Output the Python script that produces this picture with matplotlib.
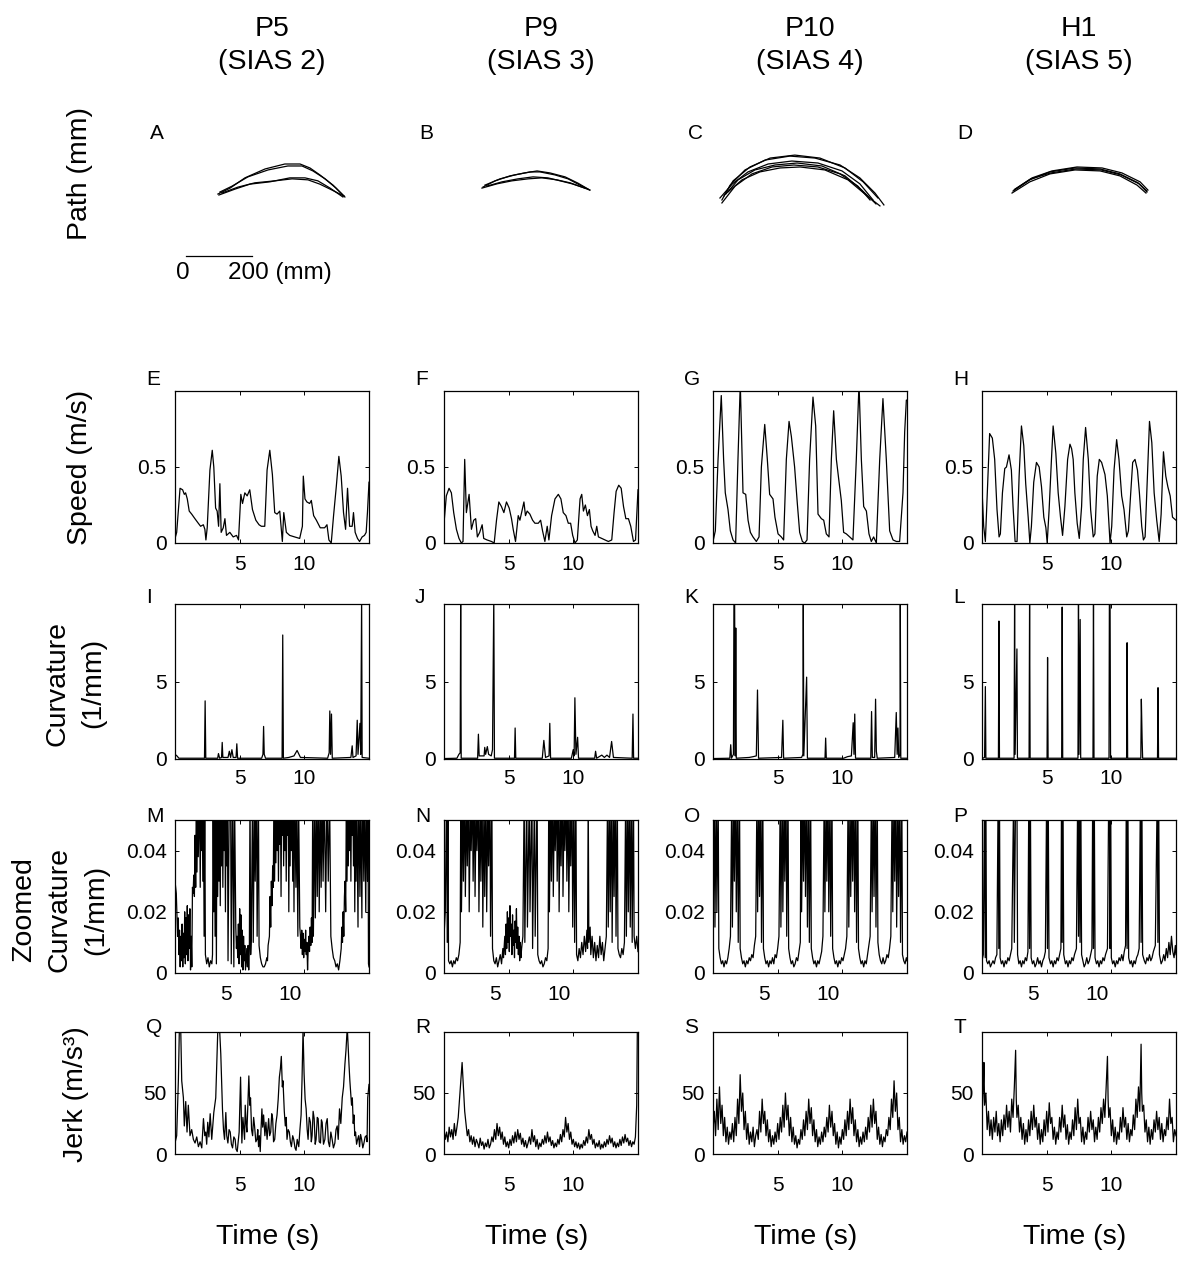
import matplotlib
matplotlib.use('Agg')
import matplotlib.pyplot as plt
import matplotlib.transforms as mtransforms

plt.rcParams['font.family'] = ['Liberation Sans', 'DejaVu Sans']

# ---------------- labels ----------------
participants = ['P5', 'P9', 'P10', 'H1']
sias = ['(SIAS 2)', '(SIAS 3)', '(SIAS 4)', '(SIAS 5)']
letters = [['A', 'B', 'C', 'D'], ['E', 'F', 'G', 'H'], ['I', 'J', 'K', 'L'],
           ['M', 'N', 'O', 'P'], ['Q', 'R', 'S', 'T']]
xticks = [5, 10]
speed_yticks = [0, 0.5]
curv_yticks = [0, 5]
zoom_yticks = [0, 0.02, 0.04]
jerk_yticks = [0, 50]
scale_bar_mm = [0, 200]

# ---------------- paths (mm) ----------------
path_P5 = [
    [(130, 321), (167, 339), (212, 370), (273, 397), (333, 412), (379, 412), (409, 400), (439, 379), (479, 348), (512, 315)],
    [(136, 327), (173, 345), (221, 373), (282, 394), (342, 406), (385, 406), (418, 391), (455, 367), (488, 339), (515, 312)],
    [(133, 318), (182, 336), (227, 351), (288, 358), (348, 370), (394, 370), (433, 361), (470, 339), (509, 312)],
    [(142, 324), (191, 342), (242, 355), (303, 361), (355, 367), (403, 364), (439, 351), (476, 333), (512, 315)],
]
path_P9 = [
    [(118, 342), (155, 361), (200, 376), (245, 385), (282, 391), (321, 385), (367, 373), (406, 354), (442, 333)],
    [(124, 348), (170, 367), (215, 379), (261, 388), (291, 388), (336, 379), (376, 367), (412, 348), (436, 336)],
    [(115, 339), (161, 352), (206, 361), (255, 367), (297, 370), (342, 364), (382, 355), (418, 342), (442, 333)],
    [(130, 345), (176, 358), (224, 367), (270, 373), (315, 370), (352, 361), (388, 352), (427, 339)],
]
path_P10 = [
    [(27, 303), (52, 348), (97, 394), (158, 424), (233, 436), (309, 430), (385, 409), (445, 370), (491, 324), (518, 288)],
    [(33, 315), (61, 361), (112, 403), (173, 430), (248, 439), (324, 430), (400, 400), (455, 358), (500, 309)],
    [(21, 309), (58, 351), (106, 388), (167, 412), (239, 421), (318, 415), (391, 391), (445, 352), (485, 303)],
    [(39, 321), (76, 364), (127, 394), (188, 409), (255, 415), (330, 406), (400, 376), (451, 333), (494, 291)],
    [(45, 327), (88, 364), (142, 388), (203, 400), (264, 403), (339, 394), (409, 364), (464, 318), (506, 285)],
    [(27, 294), (67, 345), (118, 382), (179, 403), (245, 409), (318, 403), (385, 382), (439, 345), (476, 303)],
]
path_H1 = [
    [(94, 330), (145, 364), (206, 388), (282, 400), (358, 397), (418, 382), (473, 355), (500, 330)],
    [(100, 336), (152, 370), (212, 391), (288, 403), (364, 400), (424, 385), (479, 358), (503, 333)],
    [(91, 324), (145, 358), (206, 382), (282, 394), (358, 391), (418, 376), (470, 348), (497, 324)],
    [(97, 333), (148, 367), (209, 385), (285, 397), (361, 394), (421, 379), (476, 352), (500, 327)],
]

# ---------------- speed (m/s) ----------------
speed_P5 = [(0, .03), (.13, .07), (.39, .36), (.59, .35), (.72, .32), (.82, .33), (.95, .29), (1.1, .21), (1.29, .19),
            (1.54, .16), (1.8, .13), (1.98, .11), (2.19, .12), (2.31, .09), (2.39, .02), (2.49, .10), (2.7, .48),
            (2.88, .61), (3.0, .5), (3.14, .23), (3.26, .21), (3.37, .11), (3.47, .39), (3.57, .07), (3.73, .10),
            (3.86, .16), (3.98, .05), (4.24, .07), (4.5, .04), (4.76, .05), (4.91, .02), (5.09, .32), (5.22, .26),
            (5.4, .33), (5.58, .31), (5.78, .35), (5.99, .22), (6.25, .15), (6.5, .12), (6.68, .11), (6.94, .11),
            (7.12, .48), (7.33, .61), (7.53, .45), (7.71, .2), (7.89, .19), (8.1, .21), (8.3, .01), (8.41, .20),
            (8.61, .07), (8.87, .05), (9.25, .04), (9.64, .03), (9.85, .11), (9.92, .44), (10.05, .29), (10.2, .27),
            (10.41, .26), (10.54, .28), (10.72, .18), (10.93, .15), (11.05, .13), (11.23, .10), (11.57, .10),
            (11.75, .12), (11.9, .02), (12.08, .0), (12.26, .18), (12.47, .37), (12.67, .57), (12.85, .44),
            (13.03, .2), (13.19, .09), (13.34, .36), (13.5, .11), (13.7, .11), (13.8, .2), (13.93, .07),
            (14.11, .03), (14.27, .01), (14.47, .04), (14.65, .05), (14.78, .07), (14.88, .2), (15.0, .4)]
speed_P9 = [(0, .13), (.18, .31), (.39, .36), (.57, .33), (.75, .2), (.96, .09), (1.16, .03), (1.34, 0), (1.47, .01),
            (1.6, .55), (1.73, .2), (1.94, .32), (2.12, .09), (2.3, .15), (2.45, .16), (2.58, .04), (2.76, .07),
            (2.95, .12), (3.07, .03), (3.33, .02), (3.67, .01), (3.88, 0), (4.06, .15), (4.24, .27), (4.44, .24),
            (4.63, .2), (4.83, .27), (5.04, .23), (5.22, .16), (5.35, .09), (5.53, .01), (5.74, .18), (5.87, .15),
            (6.0, .2), (6.18, .27), (6.3, .18), (6.43, .21), (6.64, .19), (6.85, .15), (7.03, .13), (7.29, .13),
            (7.47, .15), (7.62, .08), (7.8, .01), (7.98, .11), (8.11, .02), (8.32, .18), (8.58, .29), (8.84, .32),
            (9.04, .29), (9.22, .2), (9.43, .18), (9.61, .13), (9.79, .13), (9.95, .05), (10.13, 0), (10.31, .02),
            (10.52, .29), (10.65, .32), (10.78, .21), (10.93, .25), (11.09, .18), (11.24, .22), (11.37, .11),
            (11.5, .08), (11.68, .05), (11.81, .11), (11.94, .04), (12.2, .03), (12.45, .02), (12.71, .01),
            (12.97, .02), (13.15, .2), (13.31, .34), (13.51, .38), (13.7, .36), (13.88, .24), (14.06, .16),
            (14.26, .16), (14.44, .11), (14.65, .01), (14.81, .02), (15.0, .35)]
speed_P10 = [(0, .01), (.18, .08), (.39, .55), (.64, .97), (.82, .55), (.95, .33), (1.16, .22), (1.34, .08), (1.55, .02),
             (1.75, 0), (1.93, .55), (2.11, 1.05), (2.32, .33), (2.53, .32), (2.71, .15), (2.89, .07), (3.09, .04),
             (3.35, .01), (3.56, .04), (3.74, .5), (4.0, .78), (4.2, .55), (4.38, .32), (4.64, .29), (4.79, .17),
             (5.03, .06), (5.28, .04), (5.46, .02), (5.67, .55), (5.88, .8), (6.06, .7), (6.31, .5), (6.52, .26),
             (6.7, .07), (6.91, .01), (7.09, 0), (7.27, .02), (7.47, .55), (7.73, .96), (7.94, .77), (8.12, .19),
             (8.38, .16), (8.56, .15), (8.76, .06), (8.97, .04), (9.15, .55), (9.33, .87), (9.54, .55), (9.72, .42),
             (9.92, .28), (10.1, .07), (10.31, .06), (10.57, .04), (10.82, .02), (11.08, .55), (11.29, 1.05),
             (11.47, .55), (11.65, .24), (11.86, .21), (12.06, .06), (12.24, .01), (12.42, .04), (12.63, 0),
             (12.89, .55), (13.14, .95), (13.4, .55), (13.66, .08), (13.92, .02), (14.18, .01), (14.43, .01),
             (14.69, .33), (14.82, .73), (14.95, .94), (15.0, .94)]
speed_H1 = [(0, .35), (.13, .11), (.26, .01), (.41, .33), (.59, .72), (.8, .69), (.98, .55), (1.16, .22), (1.32, .04),
            (1.42, .06), (1.58, .33), (1.76, .49), (1.89, .5), (2.09, .58), (2.27, .48), (2.4, .24), (2.56, .01),
            (2.71, .01), (2.87, .44), (3.05, .77), (3.23, .64), (3.38, .39), (3.57, .17), (3.7, 0), (3.82, .11),
            (4.0, .4), (4.21, .53), (4.42, .5), (4.6, .37), (4.78, .17), (4.94, .1), (5.04, 0), (5.19, .22),
            (5.37, .55), (5.5, .77), (5.71, .59), (5.89, .33), (6.07, .17), (6.23, .05), (6.41, .24), (6.62, .55),
            (6.8, .65), (6.93, .62), (7.05, .55), (7.18, .33), (7.36, .13), (7.52, .03), (7.7, .24), (7.83, .55),
            (8.01, .76), (8.22, .55), (8.4, .22), (8.6, .04), (8.73, .06), (8.91, .44), (9.07, .55), (9.25, .53),
            (9.51, .45), (9.69, .31), (9.9, 0), (10.03, .11), (10.21, .48), (10.41, .68), (10.59, .55), (10.8, .31),
            (10.98, .22), (11.19, .04), (11.32, .08), (11.5, .33), (11.65, .53), (11.83, .55), (12.02, .48),
            (12.17, .33), (12.35, .11), (12.48, .02), (12.61, .04), (12.79, .44), (12.95, .8), (13.13, .66),
            (13.31, .33), (13.51, .15), (13.7, .01), (13.85, .19), (14.03, .6), (14.21, .44), (14.37, .37),
            (14.55, .31), (14.73, .17), (14.86, .16), (15.0, .15)]

# ---------------- curvature (1/mm) ----------------
curv_P5 = [(0, .3), (.15, .2), (.3, .05), (2.28, .05), (2.33, 3.75), (2.38, .05), (3.3, .05), (3.36, .35), (3.45, .05),
           (3.6, .1), (3.65, 1.07), (3.7, .1), (4.1, .1), (4.2, .5), (4.3, .1), (4.4, .6), (4.5, .1), (4.72, .1),
           (4.78, .98), (4.84, .05), (6.7, .05), (6.8, .3), (6.85, 2.1), (6.9, .3), (7.0, .05), (8.28, .05),
           (8.33, 8.0), (8.38, .05), (8.8, .1), (9.2, .2), (9.44, .55), (9.7, .1), (11.8, .05), (11.92, .4),
           (11.97, 3.1), (12.03, .3), (12.1, 2.9), (12.16, .05), (13.6, .1), (13.7, .85), (13.76, .1), (14.0, .2),
           (14.09, 2.5), (14.15, .3), (14.3, 2.3), (14.36, .3), (14.43, 10.5), (14.47, .1), (15.0, .05)]
curv_P9 = [(0, .03), (1.0, .05), (1.15, .3), (1.25, .4), (1.29, 10.5), (1.33, .05), (2.6, .05), (2.66, 1.6), (2.72, .2),
           (3.1, .2), (3.15, .75), (3.22, .3), (3.35, .8), (3.45, .3), (3.65, .2), (3.75, .6), (3.85, 10.5),
           (3.9, .05), (5.45, .05), (5.5, 2.0), (5.55, .05), (7.6, .05), (7.72, 1.2), (7.85, .1), (8.12, .2),
           (8.18, 2.3), (8.24, .05), (9.85, .05), (9.99, .6), (10.06, .2), (10.12, 3.95), (10.2, .3), (10.33, 1.4),
           (10.4, .05), (11.65, .05), (11.72, .5), (11.8, .05), (12.2, .25), (12.4, .1), (12.6, .25), (12.8, .1),
           (12.96, 1.13), (13.1, .1), (14.55, .05), (14.61, 2.9), (14.66, .05), (15.0, .05)]
curv_P10 = [(0, .03), (1.3, .05), (1.37, .92), (1.43, .05), (1.58, .3), (1.62, 10.5), (1.67, 10.5), (1.72, .2),
            (1.76, 8.45), (1.8, .05), (2.8, .1), (3.1, .15), (3.35, .2), (3.44, 4.45), (3.52, .05), (5.3, .1),
            (5.4, 2.5), (5.46, .05), (6.85, .1), (6.95, .3), (6.98, 10.5), (7.02, .2), (7.24, 5.28), (7.3, .05),
            (8.66, .05), (8.71, 1.35), (8.76, .05), (10.1, .05), (10.4, .15), (10.7, .2), (10.84, 2.34), (10.9, .3),
            (10.96, 2.9), (11.02, .05), (12.2, .05), (12.26, 3.06), (12.32, .1), (12.5, .1), (12.57, 3.86),
            (12.63, .5), (12.7, .05), (14.05, .1), (14.17, 3.0), (14.24, .3), (14.3, 2.0), (14.36, .1), (14.46, .3),
            (14.48, 10.5), (14.52, .05), (15.0, .05)]
curv_H1 = [(0, .03), (.2, .1), (.26, 4.67), (.3, .05), (1.27, .05), (1.31, 8.9), (1.35, .05), (2.48, .05),
           (2.52, 10.5), (2.56, .3), (2.7, 7.1), (2.74, .05), (3.64, .05), (3.68, 10.5), (3.72, .05), (5.03, .05),
           (5.07, 6.55), (5.11, .05), (6.16, .05), (6.2, 9.8), (6.24, .05), (7.42, .05), (7.46, 10.5), (7.5, .3),
           (7.59, 9.0), (7.63, .05), (8.58, .05), (8.62, 10.5), (8.66, .05), (9.82, .05), (9.85, 10.5), (9.9, 10.5),
           (9.94, .05), (11.18, .05), (11.22, 7.5), (11.26, .05), (12.28, .05), (12.32, 3.86), (12.38, 1.3),
           (12.42, .05), (13.57, .05), (13.61, 4.6), (13.65, .05), (15.0, .05)]

# ---------------- zoomed curvature (1/mm) ----------------
zoom_P5 = [(0.0, .030), (.1, .026), (.2, .012), (.25, .018), (.3, .006), (.35, .014), (.4, .002), (.45, .012), (.5, .004),
           (.55, .016), (.6, .002), (.65, .013), (.7, .005), (.75, .020), (.8, .003), (.85, .018), (.9, .006),
           (.95, .022), (1.0, .004), (1.05, .019), (1.1, .008), (1.15, .021), (1.2, .001), (1.25, .012), (1.3, .002),
           (1.35, .028), (1.4, .026), (1.45, .032), (1.5, .025), (1.55, .045), (1.6, .028), (1.65, .06), (1.7, .033),
           (1.75, .06), (1.8, .038), (1.9, .06), (1.95, .028), (2.0, .06), (2.05, .04), (2.1, .06), (2.15, .03),
           (2.2, .06), (2.25, .012), (2.3, .06), (2.35, .006), (2.45, .003), (2.55, .005), (2.65, .002), (2.75, .004),
           (2.85, .003), (2.9, .006), (2.95, .06), (3.0, .02), (3.05, .06), (3.1, .012), (3.15, .06), (3.2, .003),
           (3.25, .06), (3.3, .025), (3.35, .06), (3.4, .03), (3.45, .06), (3.5, .022), (3.55, .06), (3.6, .035),
           (3.65, .06), (3.7, .028), (3.75, .06), (3.8, .04), (3.85, .06), (3.9, .02), (3.95, .06), (4.0, .035),
           (4.05, .06), (4.1, .004), (4.2, .06), (4.3, .06), (4.35, .003), (4.45, .06), (4.55, .002), (4.6, .06),
           (4.7, .015), (4.75, .008), (4.8, .012), (4.85, .005), (4.9, .016), (4.95, .003), (5.0, .021), (5.05, .006),
           (5.1, .019), (5.15, .002), (5.2, .014), (5.25, .001), (5.3, .012), (5.35, .004), (5.4, .009), (5.45, .001),
           (5.55, .008), (5.6, .002), (5.65, .009), (5.7, .001), (5.75, .008), (5.8, .06), (5.85, .006), (5.9, .012),
           (6.0, .06), (6.05, .01), (6.15, .06), (6.2, .03), (6.3, .06), (6.35, .012), (6.45, .06), (6.5, .009),
           (6.6, .005), (6.7, .003), (6.8, .002), (6.9, .002), (7.0, .003), (7.1, .005), (7.15, .004), (7.2, .009),
           (7.3, .012), (7.35, .025), (7.4, .015), (7.45, .03), (7.5, .022), (7.55, .035), (7.6, .028), (7.65, .06),
           (7.7, .03), (7.75, .06), (7.8, .036), (7.85, .06), (7.9, .04), (7.95, .06), (8.0, .03), (8.05, .06),
           (8.1, .042), (8.15, .06), (8.2, .025), (8.25, .06), (8.3, .045), (8.35, .06), (8.4, .035), (8.45, .06),
           (8.5, .04), (8.55, .06), (8.6, .03), (8.65, .06), (8.7, .045), (8.75, .06), (8.8, .02), (8.85, .06),
           (8.9, .035), (8.95, .06), (9.0, .04), (9.05, .06), (9.1, .03), (9.15, .06), (9.2, .02), (9.25, .06),
           (9.35, .028), (9.4, .06), (9.5, .012), (9.55, .06), (9.65, .015), (9.7, .012), (9.75, .008), (9.8, .014),
           (9.85, .006), (9.9, .013), (9.95, .005), (10.0, .011), (10.05, .007), (10.1, .014), (10.15, .006),
           (10.2, .01), (10.25, .001), (10.3, .008), (10.35, .012), (10.4, .007), (10.45, .015), (10.5, .009),
           (10.55, .018), (10.6, .01), (10.65, .06), (10.7, .012), (10.8, .06), (10.85, .018), (10.95, .06),
           (11.0, .025), (11.1, .06), (11.15, .02), (11.25, .06), (11.3, .028), (11.4, .06), (11.45, .03),
           (11.55, .06), (11.65, .02), (11.75, .06), (11.85, .03), (11.95, .06), (12.05, .012), (12.15, .008),
           (12.25, .005), (12.35, .004), (12.45, .002), (12.55, .003), (12.65, .001), (12.75, .004), (12.85, .008),
           (12.9, .015), (12.95, .01), (13.0, .02), (13.05, .012), (13.1, .025), (13.15, .03), (13.2, .02),
           (13.25, .06), (13.3, .03), (13.35, .06), (13.4, .035), (13.45, .06), (13.5, .04), (13.55, .06),
           (13.6, .03), (13.65, .06), (13.7, .045), (13.75, .06), (13.8, .035), (13.85, .06), (13.9, .02),
           (13.95, .06), (14.0, .03), (14.05, .06), (14.15, .015), (14.2, .06), (14.3, .025), (14.35, .06),
           (14.45, .018), (14.5, .06), (14.6, .03), (14.65, .06), (14.75, .02), (14.8, .06), (14.88, .03),
           (14.92, .06), (14.96, .003), (15.0, .002)]
zoom_P9 = [(0.0, .012), (.1, .02), (.2, .06), (.25, .01), (.3, .06), (.35, .004), (.45, .003), (.55, .004), (.65, .002),
           (.75, .004), (.85, .003), (.95, .005), (1.05, .004), (1.15, .006), (1.25, .01), (1.3, .06), (1.35, .02),
           (1.45, .06), (1.5, .03), (1.6, .06), (1.65, .025), (1.75, .06), (1.8, .035), (1.9, .06), (1.95, .02),
           (2.05, .06), (2.1, .04), (2.2, .06), (2.25, .03), (2.35, .06), (2.4, .025), (2.5, .06), (2.55, .04),
           (2.65, .06), (2.7, .02), (2.8, .06), (2.85, .03), (2.95, .06), (3.0, .015), (3.1, .06), (3.15, .025),
           (3.25, .06), (3.3, .02), (3.4, .06), (3.45, .035), (3.55, .06), (3.6, .012), (3.7, .06), (3.75, .008),
           (3.85, .004), (3.95, .003), (4.05, .005), (4.15, .002), (4.25, .004), (4.35, .006), (4.45, .003),
           (4.55, .008), (4.6, .005), (4.7, .012), (4.75, .006), (4.8, .016), (4.85, .008), (4.9, .02), (4.95, .01),
           (5.0, .018), (5.05, .007), (5.1, .022), (5.15, .012), (5.2, .016), (5.25, .006), (5.3, .019), (5.35, .009),
           (5.4, .014), (5.45, .005), (5.5, .017), (5.55, .01), (5.6, .021), (5.65, .008), (5.7, .015), (5.75, .006),
           (5.8, .012), (5.85, .004), (5.9, .01), (5.95, .005), (6.0, .008), (6.1, .012), (6.2, .06), (6.25, .01),
           (6.4, .06), (6.45, .015), (6.6, .06), (6.65, .02), (6.8, .06), (6.85, .008), (7.0, .06), (7.05, .012),
           (7.2, .06), (7.25, .006), (7.35, .004), (7.45, .003), (7.55, .004), (7.65, .002), (7.75, .003),
           (7.85, .005), (7.95, .004), (8.05, .008), (8.1, .06), (8.15, .02), (8.25, .06), (8.3, .03), (8.4, .06),
           (8.45, .025), (8.55, .06), (8.6, .04), (8.7, .06), (8.75, .03), (8.85, .06), (8.9, .02), (9.0, .06),
           (9.05, .035), (9.15, .06), (9.2, .025), (9.3, .06), (9.35, .04), (9.45, .06), (9.5, .03), (9.6, .06),
           (9.65, .02), (9.75, .06), (9.8, .035), (9.9, .06), (9.95, .015), (10.05, .06), (10.1, .01), (10.2, .06),
           (10.25, .006), (10.35, .004), (10.45, .008), (10.55, .005), (10.65, .01), (10.75, .006), (10.85, .012),
           (10.95, .007), (11.05, .014), (11.1, .008), (11.15, .06), (11.2, .01), (11.3, .015), (11.35, .006),
           (11.45, .012), (11.55, .005), (11.65, .01), (11.75, .004), (11.85, .009), (11.95, .005), (12.05, .012),
           (12.15, .006), (12.25, .01), (12.35, .004), (12.45, .008), (12.55, .012), (12.65, .06), (12.7, .015),
           (12.8, .06), (12.85, .02), (12.95, .06), (13.0, .01), (13.1, .06), (13.15, .025), (13.25, .06),
           (13.3, .012), (13.4, .06), (13.45, .008), (13.55, .006), (13.65, .005), (13.75, .008), (13.85, .006),
           (13.95, .01), (14.05, .06), (14.1, .012), (14.2, .06), (14.25, .02), (14.35, .06), (14.4, .015),
           (14.5, .06), (14.55, .01), (14.65, .06), (14.7, .012), (14.8, .008), (14.9, .012), (15.0, .007)]
zoom_P10 = [(0.0, .01), (.1, .06), (.15, .015), (.25, .06), (.3, .02), (.4, .06), (.45, .008), (.55, .005), (.65, .003),
            (.75, .004), (.85, .002), (.95, .004), (1.05, .003), (1.15, .005), (1.25, .008), (1.35, .012),
            (1.45, .06), (1.5, .015), (1.6, .06), (1.65, .03), (1.75, .06), (1.8, .02), (1.9, .06), (1.95, .01),
            (2.05, .06), (2.1, .008), (2.2, .005), (2.3, .003), (2.4, .004), (2.5, .002), (2.6, .004), (2.7, .003),
            (2.8, .005), (2.9, .004), (3.0, .006), (3.1, .005), (3.2, .009), (3.3, .012), (3.4, .06), (3.45, .02),
            (3.55, .06), (3.6, .025), (3.7, .06), (3.75, .01), (3.85, .06), (3.9, .008), (4.0, .005), (4.1, .003),
            (4.2, .004), (4.3, .002), (4.4, .004), (4.5, .003), (4.6, .005), (4.7, .003), (4.8, .006), (4.9, .005),
            (5.0, .008), (5.1, .012), (5.2, .06), (5.25, .015), (5.35, .06), (5.4, .02), (5.5, .06), (5.55, .03),
            (5.65, .06), (5.7, .012), (5.8, .06), (5.85, .008), (5.95, .005), (6.05, .003), (6.15, .004),
            (6.25, .002), (6.35, .003), (6.45, .005), (6.55, .004), (6.65, .007), (6.75, .01), (6.8, .06),
            (6.85, .02), (6.95, .06), (7.0, .03), (7.1, .06), (7.15, .025), (7.25, .06), (7.3, .015), (7.4, .06),
            (7.45, .01), (7.55, .06), (7.6, .008), (7.7, .005), (7.8, .003), (7.9, .004), (8.0, .002), (8.1, .004),
            (8.2, .003), (8.3, .005), (8.4, .007), (8.5, .012), (8.6, .06), (8.65, .02), (8.75, .06), (8.8, .03),
            (8.9, .06), (8.95, .02), (9.05, .06), (9.1, .012), (9.2, .06), (9.25, .008), (9.35, .005), (9.45, .003),
            (9.55, .004), (9.65, .002), (9.75, .004), (9.85, .003), (9.95, .005), (10.05, .004), (10.15, .006),
            (10.25, .008), (10.35, .012), (10.45, .06), (10.5, .015), (10.6, .06), (10.65, .025), (10.75, .06),
            (10.8, .03), (10.9, .06), (10.95, .02), (11.05, .06), (11.1, .01), (11.2, .06), (11.25, .008),
            (11.35, .005), (11.45, .003), (11.55, .004), (11.65, .002), (11.75, .004), (11.85, .003), (11.95, .006),
            (12.05, .009), (12.15, .012), (12.25, .06), (12.3, .02), (12.4, .06), (12.45, .025), (12.55, .06),
            (12.6, .015), (12.7, .06), (12.75, .01), (12.85, .006), (12.95, .004), (13.05, .003), (13.15, .005),
            (13.25, .003), (13.35, .004), (13.45, .006), (13.55, .005), (13.65, .008), (13.75, .012), (13.85, .06),
            (13.9, .02), (14.0, .06), (14.05, .03), (14.15, .06), (14.2, .015), (14.3, .06), (14.35, .025),
            (14.45, .06), (14.5, .01), (14.6, .06), (14.65, .006), (14.75, .004), (14.85, .003), (14.95, .005),
            (15.0, .004)]
zoom_H1 = [(0.0, .004), (.1, .006), (.2, .06), (.25, .005), (.3, .06), (.35, .004), (.45, .003), (.55, .004),
           (.65, .002), (.75, .003), (.85, .004), (.95, .003), (1.05, .005), (1.15, .006), (1.25, .06), (1.3, .008),
           (1.35, .06), (1.4, .005), (1.5, .003), (1.6, .004), (1.7, .002), (1.8, .004), (1.9, .003), (2.0, .005),
           (2.1, .004), (2.2, .006), (2.3, .008), (2.45, .06), (2.5, .01), (2.6, .06), (2.7, .06), (2.75, .006),
           (2.85, .003), (2.95, .004), (3.05, .002), (3.15, .004), (3.25, .003), (3.35, .005), (3.45, .004),
           (3.55, .007), (3.62, .06), (3.68, .008), (3.74, .06), (3.8, .005), (3.9, .003), (4.0, .004), (4.1, .002),
           (4.2, .003), (4.3, .005), (4.4, .003), (4.5, .004), (4.6, .002), (4.7, .004), (4.8, .005), (4.9, .007),
           (5.0, .06), (5.06, .008), (5.12, .06), (5.18, .005), (5.3, .003), (5.4, .004), (5.5, .002), (5.6, .004),
           (5.7, .003), (5.8, .005), (5.9, .004), (6.0, .006), (6.1, .008), (6.15, .06), (6.2, .01), (6.26, .06),
           (6.32, .006), (6.45, .003), (6.55, .004), (6.65, .002), (6.75, .004), (6.85, .003), (6.95, .005),
           (7.05, .004), (7.15, .006), (7.3, .008), (7.4, .06), (7.46, .012), (7.52, .06), (7.58, .01), (7.64, .06),
           (7.7, .006), (7.8, .004), (7.9, .002), (8.0, .003), (8.1, .005), (8.2, .003), (8.3, .004), (8.4, .006),
           (8.5, .008), (8.56, .06), (8.62, .008), (8.68, .06), (8.74, .005), (8.85, .003), (8.95, .004),
           (9.05, .002), (9.15, .004), (9.25, .003), (9.35, .005), (9.45, .004), (9.55, .006), (9.7, .008),
           (9.8, .06), (9.86, .06), (9.9, .008), (9.95, .06), (10.0, .005), (10.1, .003), (10.2, .004), (10.3, .002),
           (10.4, .004), (10.5, .003), (10.6, .005), (10.7, .004), (10.8, .006), (10.9, .004), (11.0, .007),
           (11.1, .009), (11.16, .06), (11.22, .008), (11.28, .06), (11.34, .005), (11.45, .003), (11.55, .004),
           (11.65, .002), (11.75, .004), (11.85, .003), (11.95, .005), (12.05, .006), (12.15, .008), (12.25, .06),
           (12.3, .01), (12.36, .06), (12.42, .006), (12.55, .004), (12.65, .003), (12.75, .005), (12.85, .004),
           (12.95, .006), (13.05, .004), (13.15, .005), (13.25, .007), (13.4, .009), (13.55, .06), (13.6, .01),
           (13.66, .06), (13.72, .006), (13.85, .003), (13.95, .004), (14.05, .006), (14.15, .004), (14.25, .008),
           (14.35, .005), (14.45, .01), (14.55, .006), (14.65, .012), (14.75, .007), (14.85, .005), (14.95, .009),
           (15.0, .006)]

# ---------------- jerk (m/s^3) ----------------
jerk_P5 = [(0, 9), (.13, 15), (.26, 60), (.34, 104), (.44, 104), (.52, 60), (.65, 46), (.72, 23), (.83, 43), (.93, 18),
           (1.03, 40), (1.16, 15), (1.29, 20), (1.42, 12), (1.55, 9), (1.68, 14), (1.81, 6), (1.94, 10), (2.07, 5),
           (2.2, 29), (2.3, 15), (2.38, 18), (2.45, 8), (2.53, 26), (2.62, 14), (2.72, 33), (2.84, 12), (3.0, 34),
           (3.15, 46), (3.31, 102), (3.44, 104), (3.54, 82), (3.67, 37), (3.75, 20), (3.83, 12), (3.93, 34),
           (4.0, 15), (4.09, 9), (4.18, 20), (4.27, 18), (4.36, 8), (4.45, 5), (4.55, 14), (4.65, 12), (4.72, 4),
           (4.81, 2), (4.9, 12), (4.96, 18), (5.07, 63), (5.17, 9), (5.25, 30), (5.3, 23), (5.38, 12), (5.43, 40),
           (5.5, 25), (5.56, 18), (5.65, 45), (5.71, 64), (5.78, 40), (5.84, 46), (5.92, 20), (6.0, 15), (6.08, 30),
           (6.15, 23), (6.25, 10), (6.34, 12), (6.4, 20), (6.46, 6), (6.52, 15), (6.59, 2), (6.65, 20), (6.72, 37),
           (6.78, 22), (6.85, 32), (6.95, 15), (7.03, 26), (7.12, 12), (7.24, 29), (7.32, 15), (7.4, 18), (7.48, 33),
           (7.55, 29), (7.62, 10), (7.71, 12), (7.8, 25), (7.89, 32), (7.98, 45), (8.07, 63), (8.15, 70), (8.22, 80),
           (8.3, 55), (8.35, 60), (8.45, 35), (8.53, 23), (8.6, 30), (8.66, 12), (8.75, 20), (8.84, 18), (8.92, 10),
           (9.0, 6), (9.1, 15), (9.18, 12), (9.28, 5), (9.36, 3), (9.45, 12), (9.57, 6), (9.66, 20), (9.75, 32),
           (9.82, 60), (9.9, 102), (9.98, 66), (10.06, 45), (10.14, 37), (10.22, 20), (10.29, 12), (10.38, 30),
           (10.47, 26), (10.54, 10), (10.6, 15), (10.68, 35), (10.76, 29), (10.84, 8), (10.91, 12), (11.0, 30),
           (11.07, 29), (11.15, 10), (11.25, 9), (11.32, 28), (11.38, 26), (11.48, 8), (11.59, 12), (11.68, 25),
           (11.77, 29), (11.86, 10), (11.95, 6), (12.05, 18), (12.15, 12), (12.25, 5), (12.36, 9), (12.45, 20),
           (12.54, 23), (12.62, 12), (12.72, 37), (12.82, 25), (12.93, 46), (13.03, 55), (13.14, 74), (13.22, 85),
           (13.32, 104), (13.38, 90), (13.45, 74), (13.52, 60), (13.58, 51), (13.65, 40), (13.71, 46), (13.78, 25),
           (13.84, 32), (13.9, 15), (13.96, 18), (14.04, 8), (14.12, 12), (14.2, 15), (14.27, 6), (14.35, 16),
           (14.43, 12), (14.52, 5), (14.61, 9), (14.7, 14), (14.79, 15), (14.85, 10), (14.9, 46), (15.0, 57)]
jerk_P9 = [(0, 20), (.1, 12), (.2, 18), (.3, 10), (.4, 22), (.5, 14), (.6, 20), (.7, 12), (.8, 25), (.9, 15), (1.0, 22),
           (1.1, 30), (1.2, 45), (1.3, 60), (1.4, 75), (1.5, 55), (1.6, 35), (1.7, 25), (1.8, 15), (1.9, 20), (2.0, 10),
           (2.1, 15), (2.2, 8), (2.3, 14), (2.4, 6), (2.5, 12), (2.6, 9), (2.7, 5), (2.8, 13), (2.9, 7), (3.0, 10),
           (3.1, 4), (3.2, 9), (3.3, 6), (3.4, 12), (3.5, 5), (3.6, 8), (3.7, 14), (3.8, 10), (3.9, 20), (4.0, 12),
           (4.1, 25), (4.2, 15), (4.3, 22), (4.4, 12), (4.5, 18), (4.6, 8), (4.7, 14), (4.8, 6), (4.9, 10), (5.0, 5),
           (5.1, 12), (5.2, 7), (5.3, 15), (5.4, 9), (5.5, 18), (5.6, 10), (5.7, 20), (5.8, 12), (5.9, 17), (6.0, 8),
           (6.1, 13), (6.2, 6), (6.3, 11), (6.4, 5), (6.5, 9), (6.6, 14), (6.7, 8), (6.8, 20), (6.9, 10), (7.0, 15),
           (7.1, 6), (7.2, 12), (7.3, 4), (7.4, 9), (7.5, 6), (7.6, 12), (7.7, 8), (7.8, 15), (7.9, 9), (8.0, 18),
           (8.1, 10), (8.2, 14), (8.3, 7), (8.4, 11), (8.5, 5), (8.6, 9), (8.7, 6), (8.8, 12), (8.9, 8), (9.0, 16),
           (9.1, 10), (9.2, 20), (9.3, 14), (9.4, 30), (9.5, 18), (9.6, 25), (9.7, 12), (9.8, 18), (9.9, 8),
           (10.0, 12), (10.1, 6), (10.2, 10), (10.3, 5), (10.4, 9), (10.5, 4), (10.6, 8), (10.7, 5), (10.8, 11),
           (10.9, 7), (11.0, 14), (11.1, 9), (11.2, 20), (11.3, 12), (11.4, 16), (11.5, 8), (11.6, 12), (11.7, 5),
           (11.8, 9), (11.9, 6), (12.0, 11), (12.1, 4), (12.2, 8), (12.3, 5), (12.4, 10), (12.5, 6), (12.6, 12),
           (12.7, 8), (12.8, 15), (12.9, 9), (13.0, 13), (13.1, 6), (13.2, 10), (13.3, 5), (13.4, 9), (13.5, 6),
           (13.6, 12), (13.7, 7), (13.8, 14), (13.9, 9), (14.0, 16), (14.1, 10), (14.2, 13), (14.3, 7), (14.4, 11),
           (14.5, 6), (14.6, 10), (14.7, 8), (14.8, 14), (14.9, 40), (14.95, 104), (15.0, 104)]
jerk_P10 = [(0, 20), (.1, 35), (.2, 15), (.3, 45), (.4, 20), (.5, 55), (.6, 25), (.7, 40), (.8, 15), (.9, 30), (1.0, 10),
            (1.1, 22), (1.2, 8), (1.3, 18), (1.4, 12), (1.5, 25), (1.6, 10), (1.7, 30), (1.8, 15), (1.9, 45), (2.0, 25),
            (2.1, 65), (2.2, 35), (2.3, 50), (2.4, 20), (2.5, 35), (2.6, 12), (2.7, 25), (2.8, 8), (2.9, 18), (3.0, 10),
            (3.1, 22), (3.2, 6), (3.3, 15), (3.4, 20), (3.5, 12), (3.6, 35), (3.7, 18), (3.8, 45), (3.9, 25), (4.0, 35),
            (4.1, 15), (4.2, 28), (4.3, 10), (4.4, 20), (4.5, 6), (4.6, 15), (4.7, 8), (4.8, 18), (4.9, 10), (5.0, 25),
            (5.1, 12), (5.2, 30), (5.3, 18), (5.4, 40), (5.5, 22), (5.6, 50), (5.7, 28), (5.8, 40), (5.9, 15),
            (6.0, 30), (6.1, 10), (6.2, 22), (6.3, 8), (6.4, 15), (6.5, 5), (6.6, 12), (6.7, 8), (6.8, 20), (6.9, 12),
            (7.0, 28), (7.1, 15), (7.2, 35), (7.3, 20), (7.4, 45), (7.5, 25), (7.6, 38), (7.7, 15), (7.8, 28),
            (7.9, 10), (8.0, 20), (8.1, 6), (8.2, 14), (8.3, 8), (8.4, 18), (8.5, 10), (8.6, 22), (8.7, 14), (8.8, 30),
            (8.9, 18), (9.0, 40), (9.1, 22), (9.2, 35), (9.3, 15), (9.4, 25), (9.5, 8), (9.6, 18), (9.7, 5),
            (9.8, 14), (9.9, 8), (10.0, 20), (10.1, 12), (10.2, 28), (10.3, 15), (10.4, 35), (10.5, 20), (10.6, 45),
            (10.7, 25), (10.8, 38), (10.9, 15), (11.0, 28), (11.1, 10), (11.2, 20), (11.3, 6), (11.4, 14), (11.5, 8),
            (11.6, 18), (11.7, 10), (11.8, 22), (11.9, 12), (12.0, 30), (12.1, 18), (12.2, 40), (12.3, 22),
            (12.4, 45), (12.5, 25), (12.6, 35), (12.7, 12), (12.8, 22), (12.9, 8), (13.0, 16), (13.1, 6), (13.2, 14),
            (13.3, 10), (13.4, 20), (13.5, 15), (13.6, 30), (13.7, 20), (13.8, 45), (13.9, 30), (14.0, 60),
            (14.1, 35), (14.2, 50), (14.3, 20), (14.4, 30), (14.5, 10), (14.6, 20), (14.7, 8), (14.8, 15), (14.9, 10),
            (15.0, 18)]
jerk_H1 = [(0, 30), (.1, 55), (.15, 75), (.2, 40), (.3, 50), (.4, 20), (.5, 35), (.6, 15), (.7, 28), (.8, 12), (.9, 30),
           (1.0, 18), (1.1, 35), (1.2, 15), (1.3, 25), (1.4, 10), (1.5, 28), (1.6, 15), (1.7, 32), (1.8, 20),
           (1.9, 40), (2.0, 22), (2.1, 35), (2.2, 18), (2.3, 45), (2.4, 30), (2.5, 55), (2.6, 85), (2.65, 45),
           (2.7, 30), (2.8, 40), (2.9, 18), (3.0, 30), (3.1, 12), (3.2, 25), (3.3, 8), (3.4, 20), (3.5, 10), (3.6, 28),
           (3.7, 15), (3.8, 35), (3.9, 20), (4.0, 40), (4.1, 22), (4.2, 30), (4.3, 12), (4.4, 25), (4.5, 8), (4.6, 20),
           (4.7, 10), (4.8, 28), (4.9, 15), (5.0, 35), (5.1, 18), (5.2, 42), (5.3, 25), (5.4, 30), (5.5, 12),
           (5.6, 22), (5.7, 8), (5.8, 18), (5.9, 12), (6.0, 30), (6.1, 18), (6.2, 40), (6.3, 22), (6.4, 32),
           (6.5, 12), (6.6, 24), (6.7, 8), (6.8, 18), (6.9, 12), (7.0, 28), (7.1, 15), (7.2, 38), (7.3, 20),
           (7.4, 45), (7.5, 25), (7.6, 30), (7.7, 10), (7.8, 22), (7.9, 8), (8.0, 18), (8.1, 12), (8.2, 30),
           (8.3, 18), (8.4, 35), (8.5, 20), (8.6, 28), (8.7, 10), (8.8, 22), (8.9, 12), (9.0, 30), (9.1, 18),
           (9.2, 38), (9.3, 25), (9.4, 45), (9.5, 30), (9.6, 55), (9.7, 80), (9.75, 45), (9.8, 30), (9.9, 38),
           (10.0, 15), (10.1, 28), (10.2, 10), (10.3, 22), (10.4, 8), (10.5, 18), (10.6, 12), (10.7, 30), (10.8, 18),
           (10.9, 38), (11.0, 22), (11.1, 30), (11.2, 12), (11.3, 25), (11.4, 10), (11.5, 20), (11.6, 15),
           (11.7, 32), (11.8, 20), (11.9, 45), (12.0, 30), (12.1, 55), (12.2, 35), (12.3, 90), (12.35, 50),
           (12.4, 35), (12.5, 40), (12.6, 18), (12.7, 28), (12.8, 10), (12.9, 22), (13.0, 8), (13.1, 20), (13.2, 12),
           (13.3, 28), (13.4, 18), (13.5, 35), (13.6, 20), (13.7, 30), (13.8, 12), (13.9, 25), (14.0, 10),
           (14.1, 20), (14.2, 15), (14.3, 30), (14.4, 20), (14.5, 45), (14.6, 25), (14.7, 30), (14.8, 10),
           (14.9, 20), (15.0, 15)]

paths = [path_P5, path_P9, path_P10, path_H1]
series = [
    [speed_P5, speed_P9, speed_P10, speed_H1],
    [curv_P5, curv_P9, curv_P10, curv_H1],
    [zoom_P5, zoom_P9, zoom_P10, zoom_H1],
    [jerk_P5, jerk_P9, jerk_P10, jerk_H1],
]

# ---------------- layout ----------------
W, H = 1200, 1261
fig = plt.figure(figsize=(W / 100, H / 100), dpi=100)


def add_ax(l, t, w, h):
    return fig.add_axes([l / W, 1 - (t + h) / H, w / W, h / H])


def ftext(x, y, s, **kw):
    fig.text(x / W, 1 - y / H, s, **kw)


col_left = [175, 444, 713, 982]
col_w = 194
rows = [
    dict(top=391, h=152, ylim=(0, 1.0), yticks=speed_yticks, ylab=['0', '0.5'], lt=-6, xpad=9),
    dict(top=604, h=155, ylim=(0, 10), yticks=curv_yticks, ylab=['0', '5'], lt=-1, xpad=7),
    dict(top=820, h=153, ylim=(0, 0.05), yticks=zoom_yticks, ylab=['0', '0.02', '0.04'], lt=2, xpad=9),
    dict(top=1032, h=122, ylim=(0, 100), yticks=jerk_yticks, ylab=['0', '50'], lt=1, xpad=16),
]
TFS = 15
LFS = 20.5
LETFS = 15

# column titles and x labels
for c in range(4):
    cx = col_left[c] + col_w / 2
    ftext(cx, 29, participants[c], ha='center', va='center', fontsize=LFS)
    ftext(cx, 62, sias[c], ha='center', va='center', fontsize=LFS)
    ftext(cx - 4, 1237, 'Time (s)', ha='center', va='center', fontsize=LFS)

# row labels
ftext(80, 174, 'Path (mm)', rotation=90, ha='center', va='center', fontsize=LFS)
ftext(80, 467, 'Speed (m/s)', rotation=90, ha='center', va='center', fontsize=LFS)
ftext(58, 683, 'Curvature', rotation=90, ha='center', va='center', fontsize=LFS)
ftext(93, 683, '(1/mm)', rotation=90, ha='center', va='center', fontsize=LFS)
ftext(24, 910, 'Zoomed', rotation=90, ha='center', va='center', fontsize=LFS)
ftext(60, 910, 'Curvature', rotation=90, ha='center', va='center', fontsize=LFS)
ftext(96, 910, '(1/mm)', rotation=90, ha='center', va='center', fontsize=LFS)
ftext(76, 1094, 'Jerk (m/s³)', rotation=90, ha='center', va='center', fontsize=LFS)

# path row
for c in range(4):
    ax = add_ax(col_left[c], 130, col_w, 170)
    ax.set_xlim(0, 588)
    ax.set_ylim(0, 515)
    ax.axis('off')
    for tr in paths[c]:
        xs = [p[0] for p in tr]
        ys = [p[1] for p in tr]
        ax.plot(xs, ys, color='black', lw=0.9)
    ftext(col_left[c] - 25, 139, letters[0][c], ha='left', va='baseline', fontsize=LETFS)
    if c == 0:
        x0 = 33
        ax.plot([x0 + scale_bar_mm[0], x0 + scale_bar_mm[1]], [133, 133], color='black', lw=0.9)
        ax.text(x0 - 9, 82, '0', ha='center', va='center', fontsize=17.5)
        ax.text(x0 + scale_bar_mm[1] - 72, 82, '200 (mm)', ha='left', va='center', fontsize=17.5)

# time-series rows
for r, rc in enumerate(rows):
    for c in range(4):
        ax = add_ax(col_left[c], rc['top'], col_w, rc['h'])
        data = series[r][c]
        ax.plot([p[0] for p in data], [p[1] for p in data], color='black', lw=0.9)
        ax.set_xlim(0, 15)
        ax.set_ylim(*rc['ylim'])
        ax.set_xticks(xticks)
        ax.set_xticklabels([str(v) for v in xticks])
        ax.set_yticks(rc['yticks'])
        ax.set_yticklabels(rc['ylab'])
        ax.tick_params(direction='in', length=3, width=0.7, top=True, right=True,
                       labelsize=TFS, colors='black')
        ax.tick_params(axis='x', pad=rc['xpad'])
        ax.tick_params(axis='y', pad=6)
        for s in ax.spines.values():
            s.set_linewidth(0.9)
        if r == 2:
            off = mtransforms.ScaledTranslation(-0.14, 0, fig.dpi_scale_trans)
            for lbl in ax.get_xticklabels():
                lbl.set_transform(lbl.get_transform() + off)
        ftext(col_left[c] - 29, rc['top'] + rc['lt'], letters[r + 1][c], ha='left', va='baseline', fontsize=LETFS)

fig.savefig('out.png', dpi=100)
